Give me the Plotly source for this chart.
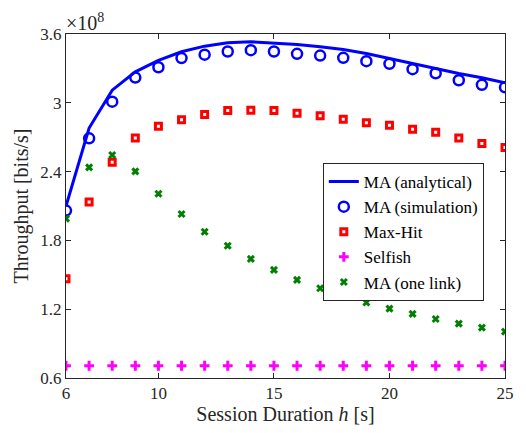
import plotly.graph_objects as go

h = list(range(6, 26))
ma_analytical = [2.10, 2.78, 3.11, 3.27, 3.37, 3.445, 3.494, 3.523, 3.532, 3.523,
                 3.508, 3.488, 3.465, 3.430, 3.386, 3.343, 3.299, 3.255, 3.218, 3.174]
ma_simulation = [2.06, 2.69, 3.01, 3.22, 3.31, 3.39, 3.42, 3.447, 3.459, 3.447,
                 3.427, 3.412, 3.392, 3.363, 3.340, 3.293, 3.258, 3.197, 3.157, 3.135]
max_hit = [1.465, 2.134, 2.481, 2.693, 2.795, 2.853, 2.897, 2.932, 2.934, 2.932,
           2.908, 2.888, 2.856, 2.827, 2.804, 2.769, 2.743, 2.693, 2.644, 2.611]
selfish = [0.707] * 20
ma_one_link = [1.99, 2.437, 2.545, 2.402, 2.207, 2.030, 1.875, 1.753, 1.639, 1.543,
               1.456, 1.383, 1.319, 1.258, 1.205, 1.159, 1.115, 1.074, 1.039, 1.004]
x_ticks = [6, 10, 15, 20, 25]
y_ticks = [0.6, 1.2, 1.8, 2.4, 3.0, 3.6]
y_tick_text = ["0.6", "1.2", "1.8", "2.4", "3", "3.6"]

FONT = "Liberation Serif"
AX = "#262626"

fig = go.Figure()
fig.add_trace(go.Scatter(x=h, y=ma_analytical, mode="lines", name="MA (analytical)",
                         line=dict(color="#0000ff", width=3)))
fig.add_trace(go.Scatter(x=h, y=ma_simulation, mode="markers", name="MA (simulation)",
                         marker=dict(symbol="circle-open", size=10, color="#0000ff",
                                     line=dict(width=2.5, color="#0000ff"))))
fig.add_trace(go.Scatter(x=h, y=max_hit, mode="markers", name="Max-Hit",
                         marker=dict(symbol="square-open", size=6, color="#ff0000",
                                     line=dict(width=3, color="#ff0000"))))
fig.add_trace(go.Scatter(x=h, y=selfish, mode="markers", name="Selfish",
                         marker=dict(symbol="cross-thin-open", size=7, color="#ff00ff",
                                     line=dict(width=3, color="#ff00ff"))))
fig.add_trace(go.Scatter(x=h, y=ma_one_link, mode="markers", name="MA (one link)",
                         marker=dict(symbol="x-thin-open", size=6, color="#008000",
                                     line=dict(width=3, color="#008000"))))

fig.update_layout(
    width=526, height=433,
    margin=dict(l=66, r=13, t=34, b=55),
    paper_bgcolor="white", plot_bgcolor="white",
    font=dict(family=FONT, size=17, color=AX),
    showlegend=True,
    legend=dict(x=0.585, y=0.625, xanchor="left", yanchor="top",
                bgcolor="white", bordercolor=AX, borderwidth=1,
                font=dict(family=FONT, size=17, color="#000000"),
                tracegroupgap=0),
    annotations=[dict(text="×10<sup>8</sup>", xref="paper", yref="paper",
                      x=0.0, y=1.0, xanchor="left", yanchor="bottom",
                      showarrow=False, font=dict(family=FONT, size=20, color=AX),
                      xshift=-2, yshift=-2)],
)
fig.update_xaxes(range=[6, 25], tickvals=x_ticks, ticks="inside", ticklen=5,
                 tickcolor=AX, showline=True, linecolor=AX, linewidth=1, mirror="ticks",
                 showgrid=False, zeroline=False, tickfont=dict(size=17),
                 title=dict(text="Session Duration <i>h</i> [s]", font=dict(size=20), standoff=4))
fig.update_yaxes(range=[0.6, 3.6], tickvals=y_ticks, ticktext=y_tick_text, ticks="inside",
                 ticklen=5, tickcolor=AX, showline=True, linecolor=AX, linewidth=1,
                 mirror="ticks", showgrid=False, zeroline=False, tickfont=dict(size=17),
                 title=dict(text="Throughput [bits/s]", font=dict(size=20), standoff=6))

fig.write_html("out.html", config={"displayModeBar": False},
               post_script="document.body.style.margin='0';")
